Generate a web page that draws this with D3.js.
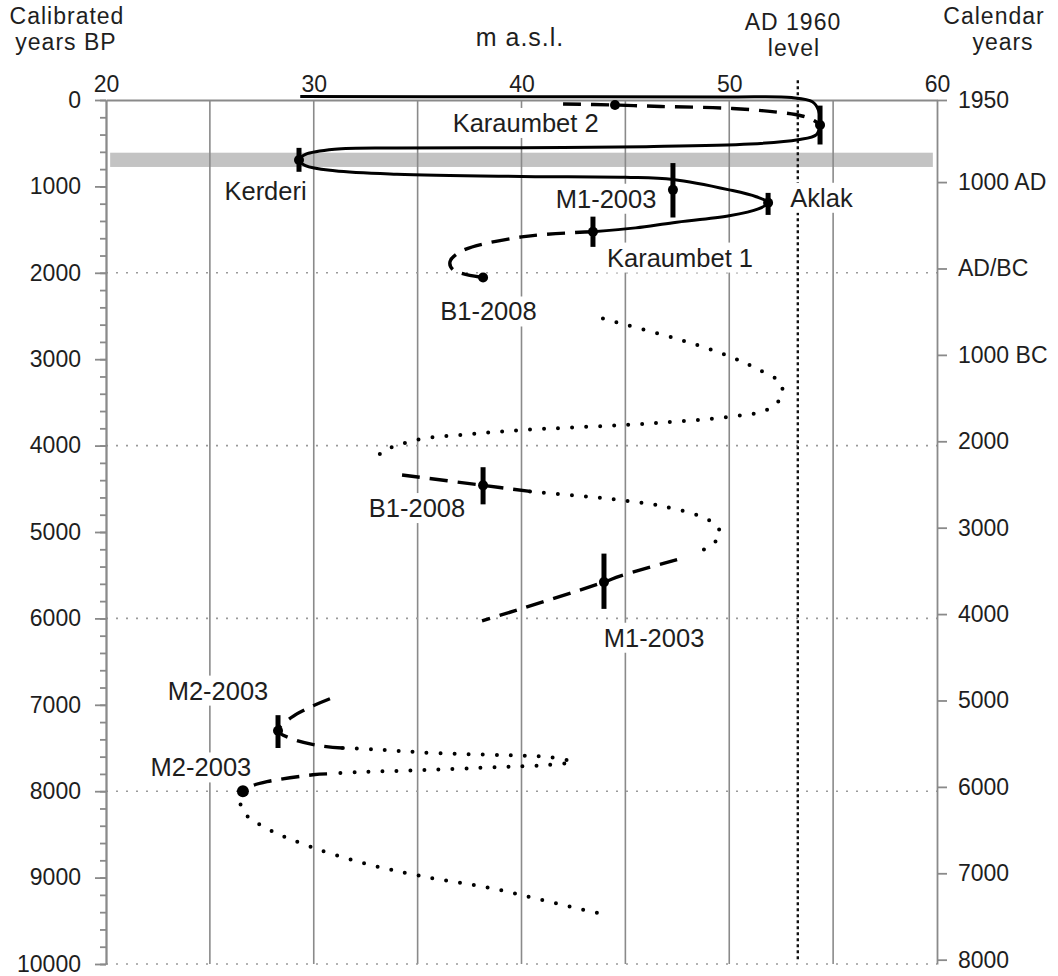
<!DOCTYPE html>
<html><head><meta charset="utf-8">
<script src="https://cdn.jsdelivr.net/npm/d3@7"></script>
<style>
body{margin:0;background:#fff}
text{font-family:Arial,"Liberation Sans",sans-serif;fill:#1e1e1e}
</style>
</head><body><svg id="c" width="1058" height="976"></svg>
<script>
// ---------- data ----------
const topTicks = [20, 30, 40, 50, 60];
const gridLevels = [25, 30, 35, 40, 45, 50, 55];
const bpMajor = [0,1000,2000,3000,4000,5000,6000,7000,8000,9000,10000];
const bpMinor = d3.range(0, 10001, 200);
const bpDotted = [2000, 4000, 6000, 8000, 10000];
const calBP = [0, 950, 1950, 2950, 3950, 4950, 5950, 6950, 7950, 8950, 9950];
const calLabels = ["1950","1000 AD","AD/BC","1000 BC","2000","3000","4000","5000","6000","7000","8000"];
const level1960 = 53.3;
const level1960Span = [-230, 9960];
const bandLevels = [20.2, 59.8];
const bandBP = [610, 775];

// curves: [m a.s.l., cal BP]
const solidMain = [[29.35,-40],[40,-38],[50,-35],[53,-28],[54.0,20],[54.3,120],[54.37,290],[54.2,400],[53.3,460],[51,510],[46,540],[40,552],[34,556],[31,570],[29.6,630],[29.29,695],[29.6,760],[31,820],[34,860],[40,885],[45,895],[47.3,920],[50,1040],[51.3,1120],[51.87,1190],[51.4,1260],[50,1340],[47.3,1420],[45.5,1480],[43.44,1525]];
const dashKaraumbet2 = [[42.0,46],[44.5,58],[46.7,75],[49.9,95],[52.3,140],[53.5,185],[54.1,240],[54.37,290]];
const dashKaraumbet1 = [[43.44,1525],[40.0,1585],[37.1,1750],[36.56,1870],[36.7,1963],[38.15,2055]];
const dotMid1 = [[43.92,2530],[47.97,2800],[49.94,2960],[51.24,3100],[52.44,3270],[52.54,3420],[51.87,3580],[49.89,3670],[47.0,3730],[45.08,3760],[40.07,3820],[37.38,3870],[35.26,3920],[34.0,4000],[33.29,4070],[32.95,4190]];
const dashMid1 = [[34.25,4340],[38.15,4460],[40.41,4530]];
const dotMid2 = [[40.41,4530],[42.67,4580],[44.74,4630],[46.76,4700],[48.73,4830],[49.41,4930],[49.56,5040],[49.08,5160],[48.45,5240]];
const dashMid2 = [[47.49,5320],[44.74,5510],[43.97,5580],[38.1,6030]];
const dashLow1 = [[30.78,6930],[29.8,7030],[28.9,7150],[28.28,7300],[28.9,7390],[30.2,7470],[31.4,7500]];
const dotLow1 = [[31.4,7500],[33.19,7520],[35.93,7560],[40.07,7590],[41.52,7610],[42.43,7660],[41.03,7700],[38.97,7720],[34.78,7760],[32.08,7780],[30.64,7800]];
const dashLow2 = [[30.64,7800],[29.96,7810],[27.75,7890],[26.9,7950],[26.59,8000]];
const dotLow2 = [[26.59,8000],[26.45,8110],[26.69,8260],[27.89,8450],[29.82,8640],[32.37,8830],[35.11,8980],[38.48,9120],[43.3,9390],[43.92,9420]];

// dated points: [m, BP]
const datedPoints = [[54.37,290],[29.29,695],[47.29,1040],[51.87,1190],[43.44,1525],[44.5,58],[38.15,2055],[38.15,4460],[43.97,5580],[28.28,7300],[26.59,8000]];
// error bars: [m, BP low, BP high]
const errorBars = [[54.37,65,515],[29.29,554,831],[47.29,730,1360],[51.87,1075,1330],[43.44,1350,1700],[38.15,4250,4680],[43.97,5250,5890],[28.28,7120,7500]];

// site labels: [text, m (centre), BP (baseline)]
const siteLabels = [
  ["Karaumbet 2",40.2,370],["Kerderi",27.68,1155],["M1-2003",44.07,1247],["Aklak",54.44,1236],
  ["Karaumbet 1",47.63,1928],["B1-2008",38.41,2552],["B1-2008",34.97,4827],["M1-2003",46.38,6328],
  ["M2-2003",25.39,6940],["M2-2003",24.57,7829]
];

// ---------- drawing ----------
const svg = d3.select("#c");
const x = d3.scaleLinear().domain([20,60]).range([106,937]);
const y = d3.scaleLinear().domain([0,10000]).range([100,964]);
const GREY = "#8a8a8a";

// grey band
svg.append("rect").attr("x", x(bandLevels[0])).attr("width", x(bandLevels[1]) - x(bandLevels[0]))
  .attr("y", y(bandBP[0])).attr("height", y(bandBP[1]) - y(bandBP[0])).attr("fill", "#c3c3c3");

// vertical gridlines
svg.append("g").selectAll("line").data(gridLevels).join("line")
  .attr("x1", d => x(d)).attr("x2", d => x(d)).attr("y1", y(0)).attr("y2", y(10000))
  .attr("stroke", GREY).attr("stroke-width", 1.6);

// horizontal dotted lines
svg.append("g").selectAll("line").data(bpDotted).join("line")
  .attr("x1", x(20)).attr("x2", x(60)).attr("y1", d => y(d)).attr("y2", d => y(d))
  .attr("stroke", "#9a9a9a").attr("stroke-width", 1.6).attr("stroke-dasharray", "2,8");

// 1960 level
svg.append("line").attr("x1", x(level1960)).attr("x2", x(level1960))
  .attr("y1", y(level1960Span[0])).attr("y2", y(level1960Span[1]))
  .attr("stroke", "#111").attr("stroke-width", 2.4).attr("stroke-dasharray", "3,3");

// axes
function styleAxis(g){
  g.selectAll(".domain").attr("stroke", GREY).attr("stroke-width", 1.8);
  g.selectAll(".tick line").attr("stroke", GREY).attr("stroke-width", 1.8);
  g.selectAll("text").attr("fill", "#1e1e1e").style("font-size", "23px").style("font-family", "Arial, 'Liberation Sans', sans-serif");
}
svg.append("g").attr("transform", `translate(${x(20)},0)`)
  .call(d3.axisLeft(y).tickValues(bpMinor).tickSize(6).tickSizeOuter(0).tickFormat(""))
  .call(styleAxis);
svg.append("g").attr("transform", `translate(${x(20)},0)`)
  .call(d3.axisLeft(y).tickValues(bpMajor).tickSize(11).tickPadding(14).tickSizeOuter(0).tickFormat(d3.format("d")))
  .call(styleAxis);
svg.append("g").attr("transform", `translate(${x(60)},0)`)
  .call(d3.axisRight(y).tickValues(calBP).tickSize(10).tickPadding(11).tickSizeOuter(0).tickFormat((d,i) => calLabels[i]))
  .call(styleAxis);
svg.append("g").attr("transform", `translate(0,${y(0)})`)
  .call(d3.axisTop(x).tickValues(topTicks).tickSize(0).tickPadding(8).tickSizeOuter(0))
  .call(styleAxis);

// titles
const titles = [["Calibrated",67,24,23],["years BP",66,50,23],["m a.s.l.",520,46,25],["AD 1960",793,30,23],["level",794,56,23],["Calendar",994,24,23],["years",1003,50,23]];
svg.append("g").selectAll("text").data(titles).join("text")
  .attr("x", d => d[1]).attr("y", d => d[2]).attr("text-anchor", "middle")
  .style("font-size", d => d[3] + "px").style("letter-spacing", "1px").text(d => d[0]);

// label backgrounds + labels
const lblG = svg.append("g");
const lbls = lblG.selectAll("text").data(siteLabels).join("text")
  .attr("x", d => x(d[1])).attr("y", d => y(d[2])).attr("text-anchor", "middle")
  .style("font-size", "25.5px").text(d => d[0]);
lbls.each(function(){
  const b = this.getBBox();
  lblG.insert("rect", "text").attr("x", b.x - 2).attr("y", b.y - 1).attr("width", b.width + 4).attr("height", b.height + 2).attr("fill", "#fff");
});

// curves
const line = d3.line().x(d => x(d[0])).y(d => y(d[1])).curve(d3.curveCatmullRom.alpha(0.5));
const curveG = svg.append("g").attr("fill", "none").attr("stroke", "#000");
function draw(data, style){
  const p = curveG.append("path").attr("d", line(data));
  if (style === "solid") p.attr("stroke-width", 3);
  if (style === "dash") p.attr("stroke-width", 3.4).attr("stroke-dasharray", "18,10");
  if (style === "dot") p.attr("stroke-width", 4).attr("stroke-linecap", "round").attr("stroke-dasharray", "0,14");
}
draw(solidMain, "solid");
draw(dashKaraumbet2, "dash");
draw(dashKaraumbet1, "dash");
draw(dotMid1, "dot");
draw(dashMid1, "dash");
draw(dotMid2, "dot");
draw(dashMid2, "dash");
draw(dashLow1, "dash");
draw(dotLow1, "dot");
draw(dashLow2, "dash");
draw(dotLow2, "dot");

// error bars
svg.append("g").selectAll("line").data(errorBars).join("line")
  .attr("x1", d => x(d[0])).attr("x2", d => x(d[0])).attr("y1", d => y(d[1])).attr("y2", d => y(d[2]))
  .attr("stroke", "#000").attr("stroke-width", 5);

// points
svg.append("g").selectAll("circle").data(datedPoints).join("circle")
  .attr("cx", d => x(d[0])).attr("cy", d => y(d[1])).attr("r", (d,i) => i === datedPoints.length - 1 ? 6 : 5)
  .attr("fill", "#000");
</script>
</body></html>
